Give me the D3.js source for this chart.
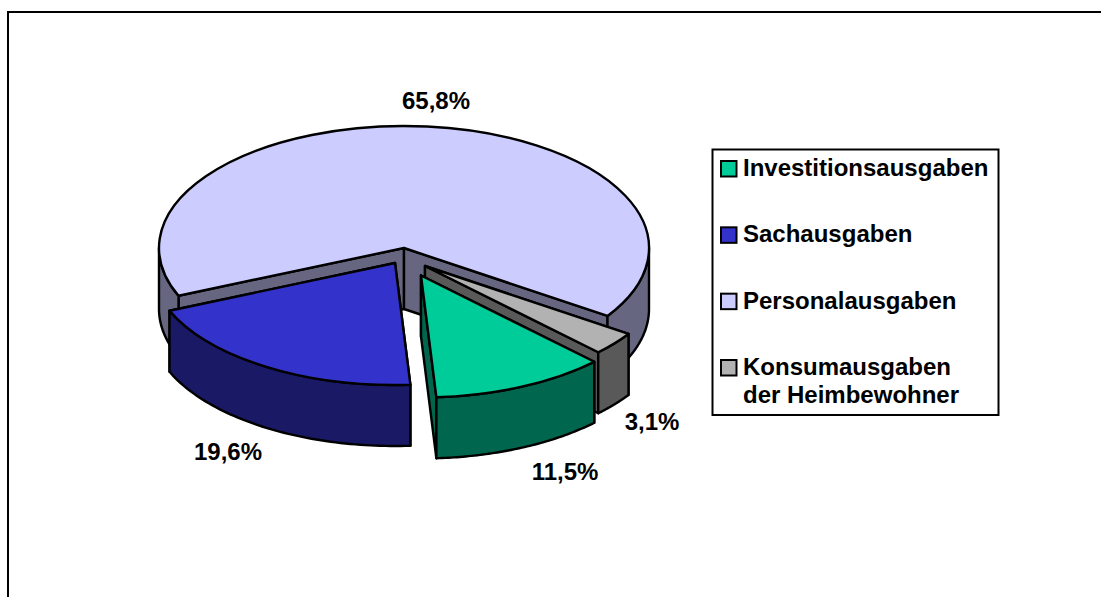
<!DOCTYPE html>
<html>
<head>
<meta charset="utf-8">
<script src="https://cdn.jsdelivr.net/npm/d3@7"></script>
<style>
  body { margin: 0; background: #fff; }
  text { font-family: "Liberation Sans", Arial, sans-serif; font-weight: bold; font-size: 24px; fill: #000; }
</style>
</head>
<body>
<script>
var categories = ["Investitionsausgaben", "Sachausgaben", "Personalausgaben", "Konsumausgaben\nder Heimbewohner"];
var values = [11.5, 19.6, 65.8, 3.1];
var topColors = ["#00cc99", "#3333cc", "#ccccff", "#b2b2b2"];
var sideColors = ["#00664d", "#191966", "#666680", "#595959"];

// layout, not data
var width = 1101, height = 597;
var cx = 404, cy = 248, rx = 245, ry = 122, depth = 61;
var firstAngle = 135 * Math.PI / 180;
var explode = [[17, 27.5], [-9, 15], [0, 0], [21, 18]];
var labelAt = [[565, 480], [228, 460], [436, 109], [652, 430]];
var drawOrder = [2, 3, 0, 1];

var svg = d3.select("body").append("svg")
  .attr("width", width)
  .attr("height", height)
  .style("display", "block");

// frame
svg.append("path")
  .attr("d", d3.line()([[8, height], [8, 12], [width, 12]]))
  .attr("fill", "none")
  .attr("stroke", "#000")
  .attr("stroke-width", 2);

var x = d3.scaleLinear().domain([-1, 1]).range([-rx, rx]);
var y = d3.scaleLinear().domain([-1, 1]).range([-ry, ry]);

var px = function(a) { return x(Math.sin(a)); };
var py = function(a) { return y(-Math.cos(a)); };

var slices = d3.pie().sort(null)
  .startAngle(firstAngle)
  .endAngle(firstAngle + 2 * Math.PI)
  .value(function(d) { return d; })(values);

var arc = d3.arc().innerRadius(0).outerRadius(rx);

var rim = d3.area()
  .x(function(a) { return px(a); })
  .y0(function(a) { return py(a); })
  .y1(function(a) { return py(a) + depth; });

// parts of the rim that face the viewer
function frontRanges(a0, a1) {
  var out = [];
  [Math.PI / 2, 5 * Math.PI / 2].forEach(function(from) {
    var s = Math.max(a0, from), e = Math.min(a1, from + Math.PI);
    if (e > s) out.push([s, e]);
  });
  return out;
}

function sample(r) {
  var n = 60, a = [];
  for (var i = 0; i <= n; i++) a.push(r[0] + (r[1] - r[0]) * i / n);
  return a;
}

function edgeWall(a) {
  return d3.line()([[0, 0], [px(a), py(a)], [px(a), py(a) + depth], [0, depth]]) + "Z";
}

drawOrder.forEach(function(i) {
  var s = slices[i];
  var g = svg.append("g")
    .attr("transform", "translate(" + (cx + explode[i][0]) + "," + (cy + explode[i][1]) + ")")
    .attr("stroke", "#000")
    .attr("stroke-width", 2.4)
    .attr("stroke-linejoin", "round");

  [s.startAngle, s.endAngle].forEach(function(a) {
    g.append("path").attr("d", edgeWall(a)).attr("fill", sideColors[i]);
  });

  frontRanges(s.startAngle, s.endAngle).forEach(function(r) {
    g.append("path").attr("d", rim(sample(r))).attr("fill", sideColors[i]);
  });

  g.append("path")
    .attr("d", arc(s))
    .attr("transform", "scale(1," + (ry / rx) + ")")
    .attr("vector-effect", "non-scaling-stroke")
    .attr("fill", topColors[i]);
});

// value labels
var pct = d3.formatLocale({ decimal: ",", thousands: ".", grouping: [3], currency: ["", ""] }).format(".1f");
svg.selectAll(".val")
  .data(values)
  .enter().append("text")
  .attr("class", "val")
  .attr("text-anchor", "middle")
  .attr("x", function(d, i) { return labelAt[i][0]; })
  .attr("y", function(d, i) { return labelAt[i][1]; })
  .text(function(d) { return pct(d) + "%"; });

// legend
svg.append("rect")
  .attr("x", 712.5).attr("y", 149.5)
  .attr("width", 286).attr("height", 265.5)
  .attr("fill", "#fff")
  .attr("stroke", "#000")
  .attr("stroke-width", 2);

var legendRow = d3.scalePoint().domain(d3.range(categories.length)).range([176, 375]);

var row = svg.selectAll(".row")
  .data(categories)
  .enter().append("g")
  .attr("class", "row")
  .attr("transform", function(d, i) { return "translate(0," + legendRow(i) + ")"; });

row.append("rect")
  .attr("x", 721).attr("y", -15)
  .attr("width", 15.5).attr("height", 15.5)
  .attr("fill", function(d, i) { return topColors[i]; })
  .attr("stroke", "#000")
  .attr("stroke-width", 2);

row.selectAll("text")
  .data(function(d) { return d.split("\n"); })
  .enter().append("text")
  .attr("x", 743)
  .attr("y", function(d, j) { return j * 28; })
  .text(function(d) { return d; });
</script>
</body>
</html>
